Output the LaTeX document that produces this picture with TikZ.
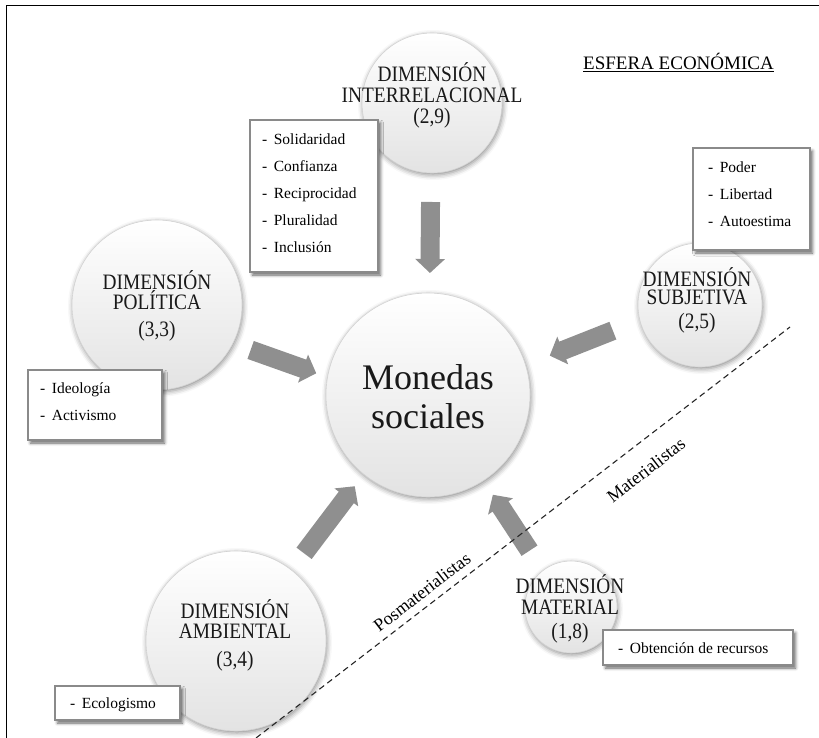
\documentclass[tikz,border=0pt]{standalone}
\usepackage{fontspec}
\setmainfont{Liberation Serif}
\newfontfamily\labfont{Liberation Serif}[FakeStretch=0.88]
\usetikzlibrary{shadows.blur, arrows.meta}
\definecolor{arrowgray}{HTML}{8F8F8F}
\definecolor{boxgray}{HTML}{8A8A8A}
\begin{document}
\begin{tikzpicture}[x=1pt, y=-1pt,
  circ/.style={circle, inner sep=0pt, outer sep=0pt, draw=gray!35, line width=0.6pt,
    top color=white, bottom color=gray!22,
    blur shadow={shadow xshift=1pt, shadow yshift=-2pt, shadow blur radius=5pt, shadow opacity=45}},
  card/.style={rectangle, inner sep=0pt, outer sep=0pt, draw=boxgray, line width=1.3pt, fill=white,
    blur shadow={shadow xshift=2.5pt, shadow yshift=-3pt, shadow blur radius=3pt, shadow opacity=60}},
  lab/.style={inner sep=0pt, align=center, anchor=north, text=black!90},
  items/.style={inner sep=0pt, align=left, anchor=north west, font=\fontsize{15.5}{27}\selectfont},
  bigarr/.style={draw=arrowgray, line width=19pt, -{Triangle[width=29pt,length=14pt]}},
  sepline/.style={draw=black!85, line width=1.1pt, dash pattern=on 6pt off 4pt},
]
\useasboundingbox (0,0) rectangle (819,738);

% frame
\draw[line width=1.5pt] (6.5,738) -- (6.5,5.5) -- (819,5.5);

% circles
\node[circ, minimum size=140pt] (inter) at (432,103) {};
\node[circ, minimum size=170pt] (pol) at (157,305) {};
\node[circ, minimum size=124pt] (sub) at (700,305) {};
\node[circ, minimum size=204pt] (mon) at (428,395) {};
\node[circ, minimum size=180pt] (amb) at (236,641) {};
\node[circ, minimum size=92pt] (mat) at (571,607) {};

% arrows
\draw[bigarr, shorten <=29pt, shorten >=20pt] (inter.-91) -- (mon.89);
\draw[bigarr, shorten <=19pt, shorten >=12pt] (pol.-27) -- (mon.170);
\draw[bigarr, shorten <=29pt, shorten >=26pt] (sub.194.6) -- (mon.17.3);
\draw[bigarr, shorten <=21pt, shorten >=15pt] (amb.52.7) -- (mon.231.6);
\draw[bigarr, shorten <=24pt, shorten >=17pt] (mat.128.7) -- (mon.303);

% separator
\coordinate (sepA) at (256,738);
\coordinate (sepB) at (790,327);
\draw[sepline] (sepA) -- (sepB);

% boxes
\node[card, minimum width=128pt, minimum height=152pt] (boxI) at (314,196) {};
\node[card, minimum width=117pt, minimum height=102pt] (boxS) at (751.5,199) {};
\node[card, minimum width=134pt, minimum height=70pt] (boxP) at (95,405) {};
\node[card, minimum width=125pt, minimum height=34pt] (boxA) at (117.5,703) {};
\node[card, minimum width=190pt, minimum height=35pt] (boxM) at (698,647.5) {};

\node[items] (txtI) at (262,133.4) {-\hspace{6.5pt}Solidaridad\\-\hspace{6.5pt}Confianza\\-\hspace{6.5pt}Reciprocidad\\-\hspace{6.5pt}Pluralidad\\-\hspace{6.5pt}Inclusión};
\node[items] (txtS) at (708,161.4) {-\hspace{6.5pt}Poder\\-\hspace{6.5pt}Libertad\\-\hspace{6.5pt}Autoestima};
\node[items] (txtP) at (40,382.4) {-\hspace{6.5pt}Ideología\\-\hspace{6.5pt}Activismo};
\node[items] (txtA) at (70,697.4) {-\hspace{6.5pt}Ecologismo};
\node[items] (txtM) at (618,642.4) {-\hspace{6.5pt}Obtención de recursos};

% circle labels
\node[lab, font=\labfont\fontsize{22}{21}\selectfont] (labI) at (432,62.2) {DIMENSIÓN\\INTERRELACIONAL\\(2,9)};
\node[lab, font=\labfont\fontsize{22}{20}\selectfont] (labP) at (157,270.2) {DIMENSIÓN\\POLÍTICA\\[7pt](3,3)};
\node[lab, font=\labfont\fontsize{22}{18}\selectfont] (labS) at (697,267.2) {DIMENSIÓN\\SUBJETIVA\\[6pt](2,5)};
\node[lab, font=\labfont\fontsize{22}{20}\selectfont] (labA) at (235,599.2) {DIMENSIÓN\\AMBIENTAL\\[8pt](3,4)};
\node[lab, font=\labfont\fontsize{22}{21}\selectfont] (labM) at (570,574.2) {DIMENSIÓN\\MATERIAL\\[3pt](1,8)};
\node[lab, font=\fontsize{36}{39}\selectfont] (labMon) at (428,364.4) {Monedas\\sociales};

% other texts
\node[inner sep=0pt, anchor=base, font=\fontsize{19}{22}\selectfont] (esfera) at (678.5,69.5) {\underline{ESFERA ECONÓMICA}};
\node[inner sep=0pt, rotate=37.7, font=\fontsize{18}{20}\selectfont] (posm) at (422,592) {Posmaterialistas};
\node[inner sep=0pt, rotate=37.7, font=\fontsize{18}{20}\selectfont] (mater) at (646,470) {Materialistas};
\end{tikzpicture}
\end{document}
